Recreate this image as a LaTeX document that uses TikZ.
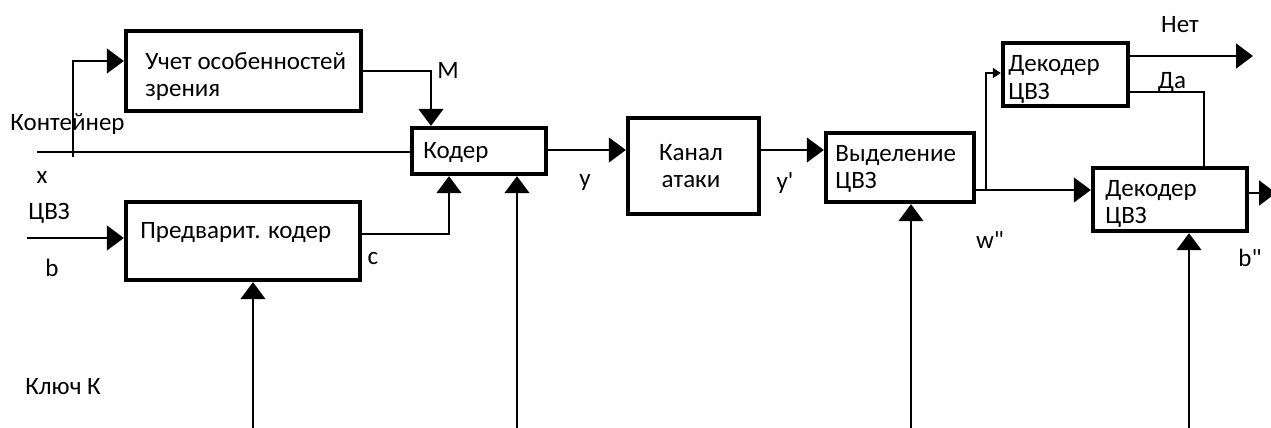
\documentclass[tikz,border=0pt]{standalone}
\usepackage{fontspec}
\setmainfont{Carlito}[Ligatures=TeXOff]
\usetikzlibrary{arrows.meta}
\begin{document}
\begin{tikzpicture}[x=0.5pt,y=-0.5pt,
  font=\fontsize{12.5pt}{13.8pt}\selectfont,
  box/.style={draw, line width=2.2pt, inner sep=0pt},
  wire/.style={line width=0.8pt},
  arr/.style={wire, -{Triangle[length=8.5pt,width=12.5pt]}},
  smallarr/.style={wire, -{Triangle[length=4pt,width=5pt]}},
  txt/.style={inner sep=0pt, anchor=west, align=left},
  lbl/.style={inner sep=0pt}]
\useasboundingbox (0,0) rectangle (1271,428);

% blocks
\node[box, minimum width=117.5pt, minimum height=40pt]   (uch)  at (243.5,71)  {};
\node[box, minimum width=117pt,   minimum height=39pt]   (pred) at (243,241)   {};
\node[box, minimum width=67pt,    minimum height=23pt]   (kod)  at (479,151)   {};
\node[box, minimum width=65.5pt,  minimum height=48pt]   (kan)  at (693.5,166) {};
\node[box, minimum width=74pt,    minimum height=34.5pt] (vyd)  at (900,167.5) {};
\node[box, minimum width=62.5pt,  minimum height=31.5pt] (dek1) at (1065.5,74.5) {};
\node[box, minimum width=77pt,    minimum height=31.5pt] (dek2) at (1170,199.5) {};

% block captions
\node[txt] (tuch)  at (145,76.5) {Учет особенностей\\зрения};
\node[txt] (tpred) at (140,233)  {Предварит. кодер};
\node[txt] (tkod)  at (423,153)  {Кодер};
\node[lbl, align=center] (tkan) at (691,166) {Канал\\атаки};
\node[txt] (tvyd)  at (835,169)  {Выделение\\ЦВЗ};
\node[txt] (tdek1) at (1008,79.5) {Декодер\\ЦВЗ};
\node[txt] (tdek2) at (1105,204) {Декодер\\ЦВЗ};

% signal labels
\node[txt] (lcont) at (10,124)  {Контейнер};
\node[lbl] (lx)    at (42,178)  {x};
\node[txt] (lcvz)  at (28,213)  {ЦВЗ};
\node[lbl] (lb)    at (52,268)  {b};
\node[txt] (lm)    at (437,70)  {M};
\node[lbl] (lc)    at (373,259) {c};
\node[lbl] (ly)    at (585,183) {y};
\node[lbl] (ly2)   at (785,183) {y'};
\node[lbl] (lw)    at (990,240) {w"};
\node[lbl] (lnet)  at (1180,25) {Нет};
\node[lbl] (lda)   at (1172,82) {Да};
\node[lbl] (lb2)   at (1250,258) {b"};
\node[txt] (lkey)  at (25,387)  {Ключ К};

% free ends and bends
\coordinate (cin)  at (37,152);
\coordinate (brb)  at (73,157);
\coordinate (brt)  at (73,61);
\coordinate (mp)   at (431,71);
\coordinate (cp)   at (449,234);
\coordinate (bin)  at (27,238);
\coordinate (k1)   at (253,428);
\coordinate (k2)   at (517,428);
\coordinate (k3)   at (911,428);
\coordinate (k4)   at (1189,428);
\coordinate (ch)   at (0,150);
\coordinate (wy)   at (986,190);
\coordinate (wt)   at (986,73);
\coordinate (netend) at (1253,56);
\coordinate (dap)  at (1204,92);
\coordinate (outb) at (1276,193);

% container and its branch
\draw[wire] (cin) -- (cin -| kod.west);
\draw[arr] (brb) -- (brt) -- (brt -| uch.west);
% vision model to encoder
\draw[arr] (uch.east) -- (mp) -- (mp |- kod.north);
% watermark pre-coder
\draw[arr] (bin) -- (bin -| pred.west);
\draw[arr] (pred.east |- cp) -- (cp) -- (cp |- kod.south);
% key inputs
\draw[arr] (k1) -- (k1 |- pred.south);
\draw[arr] (k2) -- (k2 |- kod.south);
\draw[arr] (k3) -- (k3 |- vyd.south);
\draw[arr] (k4) -- (k4 |- dek2.south);
% channel
\draw[arr] (kod.east |- ch) -- (kan.west |- ch);
\draw[arr] (kan.east |- ch) -- (vyd.west |- ch);
% extraction and decoding
\draw[arr] (vyd.east |- wy) -- (dek2.west |- wy);
\draw[smallarr] (wy) -- (wt) -- (wt -| dek1.west);
\draw[arr] (dek1.east |- netend) -- (netend);
\draw[wire] (dek1.east |- dap) -- (dap) -- (dap |- dek2.north);
\draw[arr] (dek2.east |- outb) -- (outb);
\end{tikzpicture}
\end{document}
